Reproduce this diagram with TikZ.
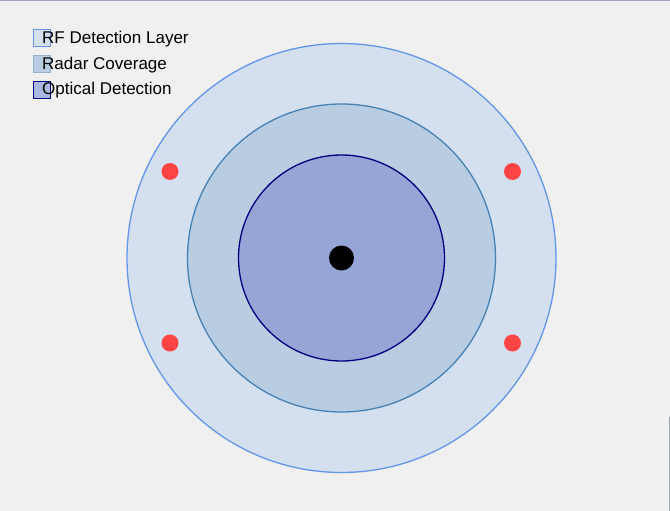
\documentclass[tikz,border=0pt]{standalone}
\usepackage{fontspec}
\setmainfont{Liberation Sans}
\definecolor{bg}{HTML}{F0F0F0}
\definecolor{rffill}{HTML}{D4E0F0}
\definecolor{rfline}{HTML}{6495ED}
\definecolor{radfill}{HTML}{B8CCE2}
\definecolor{radline}{HTML}{4682B4}
\definecolor{optfill}{HTML}{95A5D6}
\definecolor{optline}{HTML}{000080}
\definecolor{reddot}{HTML}{FF4444}
\definecolor{frame}{HTML}{A0A8C0}
\begin{document}
\begin{tikzpicture}[x=1pt,y=-1pt,
  zone/.style={circle,inner sep=0pt,line width=1.3pt},
  sensor/.style={circle,fill=reddot,inner sep=0pt,minimum size=17pt},
  legbox/.style={draw,line width=1pt,minimum size=17pt,inner sep=0pt},
  legtext/.style={anchor=west,inner sep=0pt,font=\fontsize{17}{20}\selectfont}]
\fill[bg] (0,0) rectangle (670,511);
\useasboundingbox (0,0) rectangle (670,511);
\draw[frame,line width=1.5pt] (0,0.5) -- (670,0.5);
\draw[frame,line width=1.5pt] (669.3,417) -- (669.3,511);
\node[zone,draw=rfline,fill=rffill,minimum size=429pt] (rf) at (341.5,258) {};
\node[zone,draw=radline,fill=radfill,minimum size=308pt] (radar) at (341.5,258) {};
\node[zone,draw=optline,fill=optfill,minimum size=206pt] (optical) at (341.5,258) {};
\node[circle,fill=black,inner sep=0pt,minimum size=25pt] (center) at (341.5,258) {};
\node[sensor] (s1) at (170,171.5) {};
\node[sensor] (s2) at (512.5,171.5) {};
\node[sensor] (s3) at (170,343) {};
\node[sensor] (s4) at (512.5,343) {};
\node[legbox,draw=rfline,fill=rffill] (l1) at (41.5,38.5) {};
\node[legbox,draw=radline!60,fill=radfill] (l2) at (41.5,64.5) {};
\node[legbox,draw=optline,fill=optfill!80] (l3) at (41.5,90) {};
\node[legtext] (t1) at (42,39.5) {RF Detection Layer};
\node[legtext] (t2) at (42,65) {Radar Coverage};
\node[legtext] (t3) at (42,90.5) {Optical Detection};
\end{tikzpicture}
\end{document}
